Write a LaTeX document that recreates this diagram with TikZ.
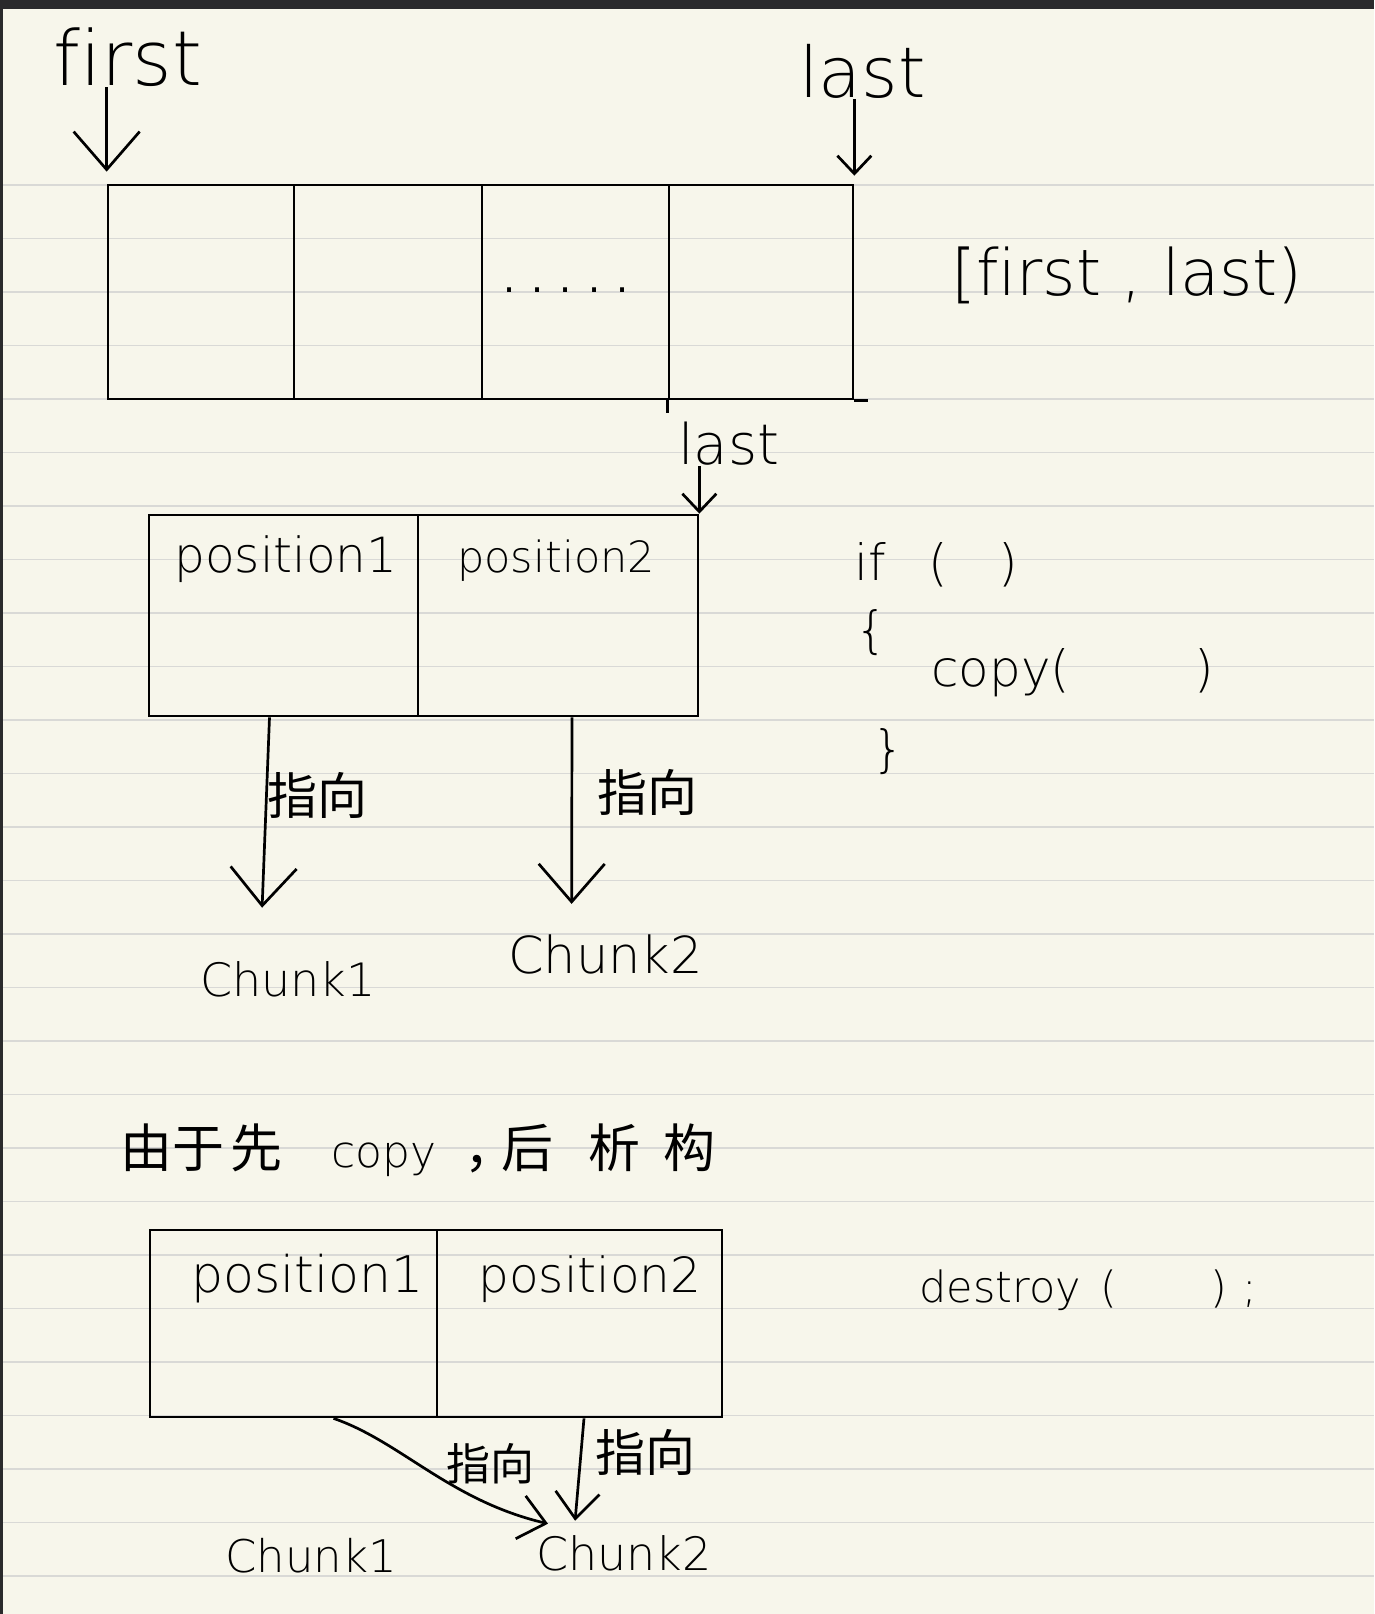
\documentclass[tikz,border=0pt]{standalone}
\usepackage{fontspec}
\setmainfont{DejaVu Sans ExtraLight}[Ligatures=NoCommon]
\newfontfamily\cjk{Noto Sans CJK SC}
\newfontfamily\dotfont{DejaVu Sans}
\usetikzlibrary{arrows.meta}
\definecolor{paper}{RGB}{247,246,235}
\definecolor{rulecol}{RGB}{217,217,214}
\definecolor{barcol}{RGB}{42,42,44}

\begin{document}
\begin{tikzpicture}[x=1pt,y=-1pt,line width=2.7pt,
  hand/.style={font=\fontsize{#1}{#1}\selectfont},
  bigtip/.style={-{Straight Barb[length=38pt,width=66pt]}},
  midtip/.style={-{Straight Barb[length=26pt,width=44pt]}},
  smalltip/.style={-{Straight Barb[length=18pt,width=34pt]}}]

        \fill[paper] (0,0) rectangle (1374,1614);
        \useasboundingbox (0,0) rectangle (1374,1614);
        \foreach \k in {0,...,26}
          \draw[rulecol,line width=1.6pt] (0,{185+53.5*\k}) -- (1374,{185+53.5*\k});
        \fill[barcol] (0,0) rectangle (1374,9);
        \fill[barcol] (0,0) rectangle (3,1614);

        \begin{scope}[every node/.style={draw,rectangle,inner sep=0pt}]
          \node[minimum width=186pt,minimum height=214pt] (c1) at (201,292) {};
          \node[minimum width=188pt,minimum height=214pt] (c2) at (388,292) {};
          \node[minimum width=187pt,minimum height=214pt] (c3) at (575.5,292) {};
          \node[minimum width=184pt,minimum height=214pt] (c4) at (761,292) {};
          \node[minimum width=269pt,minimum height=201pt] (m1) at (283.5,615.5) {};
          \node[minimum width=280pt,minimum height=201pt] (m2) at (558,615.5) {};
          \node[minimum width=287pt,minimum height=187pt] (b1) at (293.5,1323.5) {};
          \node[minimum width=285pt,minimum height=187pt] (b2) at (579.5,1323.5) {};
        \end{scope}
        \draw (c4.south east) -- ++(14,0);
        \draw (c4.south west) -- ++(0,13);

        \begin{scope}[every node/.style={inner sep=0pt,anchor=base west}]
          \node[hand=76] (first) at (52,85) {first};
          \node[hand=70] (lastA) at (798,97) {last};
          \node[hand=64] (range) at (950,295) {[first , last)};
          \node[hand=38,anchor=center] (dots) at (566,290) {\dotfont . . . . .};
          \node[hand=56] (lastB) at (677,464) {last};
          \node[hand=48.5] (pos1) at (173,572) {position1};
          \node[hand=43] (pos2) at (456,572) {position2};
          \node[hand=50] (cond) at (853,580) {if\hspace{42.5pt}(\hspace{50.5pt})};
          \node[hand=50,anchor=center] (open) at (871,633) {\{};
          \node[hand=50] (copy) at (930,686) {copy(\hspace{124pt})};
          \node[hand=50,anchor=center] (close) at (888,752) {\}};
          \node[hand=50,anchor=center] (toA) at (317,795) {\cjk 指向};
          \node[hand=50,anchor=center] (toB) at (647,792) {\cjk 指向};
          \node[hand=46] (chunkA) at (199,996) {Chunk1};
          \node[hand=51] (chunkB) at (507,973) {Chunk2};
          \node[hand=52] (note) at (119,1167) {{\cjk 由于\hspace{6pt}先}\hspace{49pt}{\fontsize{44}{44}\selectfont copy}\hspace{28pt}{\cjk ，\hspace{-15pt}后\hspace{35pt}析\hspace{23pt}构}};
          \node[hand=50.5] (pos3) at (190,1292) {position1};
          \node[hand=48.5] (pos4) at (477,1292) {position2};
          \node[hand=43] (destroy) at (918,1302) {destroy\hspace{19.5pt}(\hspace{93pt})\hspace{16pt};};
          \node[hand=44,anchor=center] (toC) at (490,1464) {\cjk 指向};
          \node[hand=50,anchor=center] (toD) at (645,1452) {\cjk 指向};
          \node[hand=45] (chunkC) at (224,1572) {Chunk1};
          \node[hand=46] (chunkD) at (535,1570) {Chunk2};
        \end{scope}

        \draw[bigtip] (first.south -| c1.north west) -- ([yshift=12pt]c1.north west);
        \draw[smalltip] (lastA.south -| c4.north east) -- ([yshift=8pt]c4.north east);
        \draw[smalltip] (lastB.south -| m2.north east) -- (m2.north east);
        \draw[bigtip] ([xshift=-14pt]m1.south) -- ([xshift=-26pt,yshift=52pt]chunkA.north);
        \draw[bigtip] ([xshift=14pt]m2.south) -- ([xshift=-34pt,yshift=29pt]chunkB.north);
        \draw[midtip] ([xshift=40pt]b1.south) .. controls +(67,23) and +(-98,-23) .. ([xshift=13pt,yshift=10pt]chunkD.north west);
        \draw[midtip] ([xshift=4.5pt]b2.south) -- ([xshift=-49pt,yshift=13pt]chunkD.north);

      \end{tikzpicture}
\end{document}
